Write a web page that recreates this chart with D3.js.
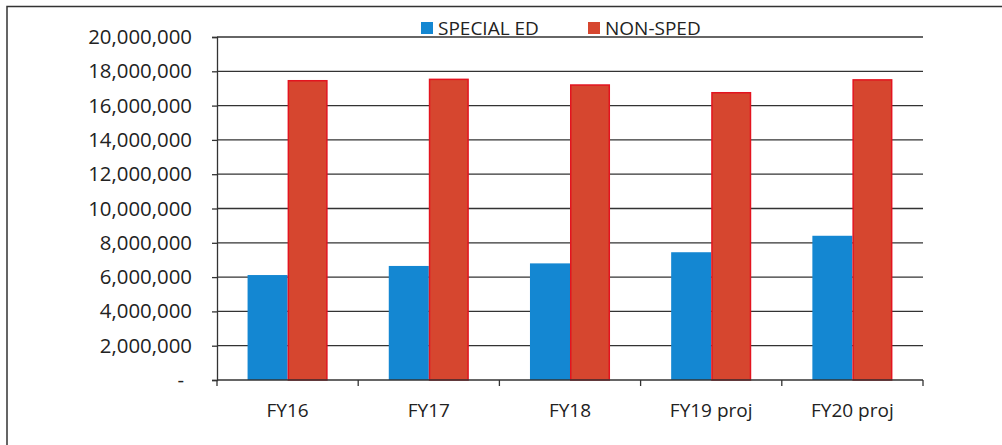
<!DOCTYPE html>
<html>
<head>
<meta charset="utf-8">
<script src="https://cdn.jsdelivr.net/npm/d3@7"></script>
<style>
body { margin: 0; background: #fff; }
text { font-family: "Open Sans", sans-serif; fill: #222; }
</style>
</head>
<body>
<div id="chart"></div>
<script>
// data
const categories = ["FY16", "FY17", "FY18", "FY19 proj", "FY20 proj"];
const seriesNames = ["SPECIAL ED", "NON-SPED"];
const specialEd = [6120000, 6650000, 6800000, 7450000, 8410000];
const nonSped = [17450000, 17530000, 17200000, 16750000, 17500000];
const yTicks = [0, 2000000, 4000000, 6000000, 8000000, 10000000, 12000000, 14000000, 16000000, 18000000, 20000000];

const svgWidth = 1002, svgHeight = 445;
const margin = {top: 37, right: 79, bottom: 65, left: 217};
const width = svgWidth - margin.left - margin.right;
const height = svgHeight - margin.top - margin.bottom;

const fills = ["#1487d2", "#d6462f"];
const strokes = ["#1487d2", "#e3141f"];

const svg = d3.select("#chart").append("svg")
  .attr("width", svgWidth)
  .attr("height", svgHeight);

// outer frame
svg.append("rect")
  .attr("x", 7).attr("y", 6.5)
  .attr("width", 1010).attr("height", 450)
  .attr("fill", "none")
  .attr("stroke", "#333")
  .attr("stroke-width", 1.5);

const chartGroup = svg.append("g")
  .attr("transform", `translate(${margin.left}, ${margin.top})`);

const x0 = d3.scaleBand().domain(categories).range([0, width]).paddingInner(0.433).paddingOuter(0.2165);
const x1 = d3.scaleBand().domain(seriesNames).range([0, x0.bandwidth()]);
const y = d3.scaleLinear().domain([0, 20000000]).range([height, 0]);

// gridlines + y axis
const fmt = d => d === 0 ? "-" : d3.format(",")(d);
const leftAxis = d3.axisLeft(y).tickValues(yTicks).tickFormat(fmt).tickSize(5).tickPadding(20);
const yAxis = chartGroup.append("g").call(leftAxis);
yAxis.select(".domain").attr("stroke", "#333").attr("stroke-width", 1.3);
yAxis.selectAll(".tick line").attr("stroke", "#333").attr("stroke-width", 1.3);
yAxis.selectAll(".tick text").style("font-size", "20.4px").attr("fill", "#222");
yAxis.selectAll(".tick").filter(d => d === 0).select("text").attr("dx", -8);

chartGroup.append("g")
  .selectAll("line")
  .data(yTicks.filter(d => d > 0))
  .enter()
  .append("line")
  .attr("x1", 0).attr("x2", width)
  .attr("y1", d => y(d)).attr("y2", d => y(d))
  .attr("stroke", "#333")
  .attr("stroke-width", 1.3);

// bars
const rows = categories.map((c, i) => ({cat: c, vals: [specialEd[i], nonSped[i]]}));
const groups = chartGroup.selectAll(".grp")
  .data(rows)
  .enter()
  .append("g")
  .attr("transform", d => `translate(${x0(d.cat)},0)`);

groups.selectAll("rect")
  .data(d => d.vals.map((v, k) => ({k: k, v: v})))
  .enter()
  .append("rect")
  .attr("x", d => x1(seriesNames[d.k]) + (d.k === 1 ? 0.75 : 0))
  .attr("y", d => y(d.v))
  .attr("width", d => x1.bandwidth() - (d.k === 1 ? 1.5 : 0))
  .attr("height", d => height - y(d.v))
  .attr("fill", d => fills[d.k])
  .attr("stroke", d => d.k === 1 ? strokes[1] : "none")
  .attr("stroke-width", 1.5);

// x axis with boundary ticks
const xAxis = chartGroup.append("g").attr("transform", `translate(0, ${height})`);
xAxis.append("line")
  .attr("x1", 0).attr("x2", width)
  .attr("stroke", "#333").attr("stroke-width", 1.3);
const step = width / categories.length;
xAxis.selectAll(".xt")
  .data(d3.range(categories.length + 1))
  .enter()
  .append("line")
  .attr("x1", d => d * step).attr("x2", d => d * step)
  .attr("y1", 0).attr("y2", 6)
  .attr("stroke", "#333").attr("stroke-width", 1.3);
xAxis.selectAll(".xl")
  .data(categories)
  .enter()
  .append("text")
  .attr("x", d => x0(d) + x0.bandwidth() / 2)
  .attr("y", 37)
  .attr("text-anchor", "middle")
  .style("font-size", "19px")
  .text(d => d);

// legend
const legendX = [421, 588];
const legend = svg.append("g");
seriesNames.forEach((name, k) => {
  legend.append("rect")
    .attr("x", legendX[k]).attr("y", 22)
    .attr("width", 12).attr("height", 12)
    .attr("fill", fills[k]);
  legend.append("text")
    .attr("x", legendX[k] + 17).attr("y", 35)
    .style("font-size", "19px")
    .text(name);
});
</script>
</body>
</html>
